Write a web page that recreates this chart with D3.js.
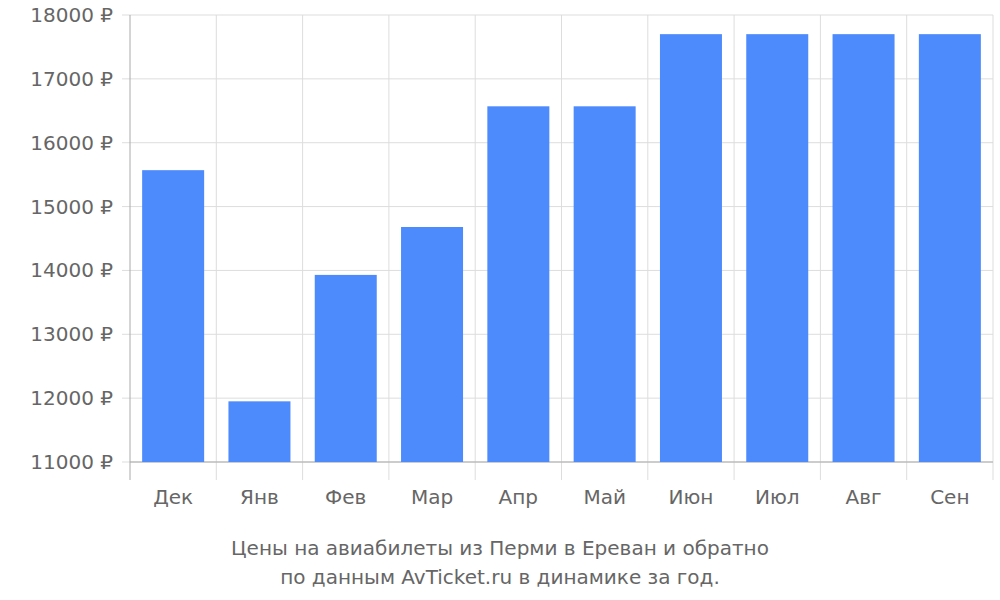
<!DOCTYPE html>
<html><head><meta charset="utf-8">
<script src="https://cdn.jsdelivr.net/npm/d3@7"></script>
<style>body{margin:0;background:#fff}</style></head>
<body><svg id="c" width="1000" height="600"></svg>
<script>
const categories=["Дек","Янв","Фев","Мар","Апр","Май","Июн","Июл","Авг","Сен"];
const prices=[15570,11950,13930,14680,16570,16570,17700,17700,17700,17700];
const yTicks=[11000,12000,13000,14000,15000,16000,17000,18000];
const titleLines=["Цены на авиабилеты из Перми в Ереван и обратно","по данным AvTicket.ru в динамике за год."];

const svg=d3.select("#c"),L=130,R=993,T=15,B=462;
const font="DejaVu Sans",col="#666";
const x=d3.scaleBand().domain(categories).range([L,R]);
const y=d3.scaleLinear().domain([11000,18000]).range([B,T]);
const g=svg.append("g");
yTicks.forEach(t=>{
 g.append("line").attr("x1",L-8).attr("x2",R).attr("y1",y(t)).attr("y2",y(t)).attr("stroke","#ddd");
 g.append("text").attr("x",113).attr("y",y(t)).attr("dy","0.35em").attr("text-anchor","end")
  .attr("font-family",font).attr("font-size",20).attr("fill",col).text(t+" ₽");
});
categories.forEach((c,i)=>{
 const bx=x(c)+x.bandwidth();
 if(i<categories.length-1) g.append("line").attr("x1",bx).attr("x2",bx).attr("y1",T).attr("y2",480).attr("stroke","#ddd");
 g.append("text").attr("x",x(c)+x.bandwidth()/2).attr("y",504).attr("text-anchor","middle")
  .attr("font-family",font).attr("font-size",20).attr("fill",col).text(c);
});
g.append("line").attr("x1",R).attr("x2",R).attr("y1",T).attr("y2",480).attr("stroke","#ddd");
const bw=62;
svg.selectAll("rect.bar").data(prices).enter().append("rect")
 .attr("x",(d,i)=>x(categories[i])+(x.bandwidth()-bw)/2).attr("width",bw)
 .attr("y",d=>y(d)).attr("height",d=>B-y(d)).attr("fill","#4d8afc");
g.append("line").attr("x1",L).attr("x2",L).attr("y1",T).attr("y2",480).attr("stroke","#aaa");
g.append("line").attr("x1",L).attr("x2",R).attr("y1",B).attr("y2",B).attr("stroke","#aaa");
titleLines.forEach((t,i)=>svg.append("text").attr("x",500).attr("y",555+i*29).attr("text-anchor","middle")
 .attr("font-family",font).attr("font-size",20).attr("fill",col).text(t));
</script></body></html>
